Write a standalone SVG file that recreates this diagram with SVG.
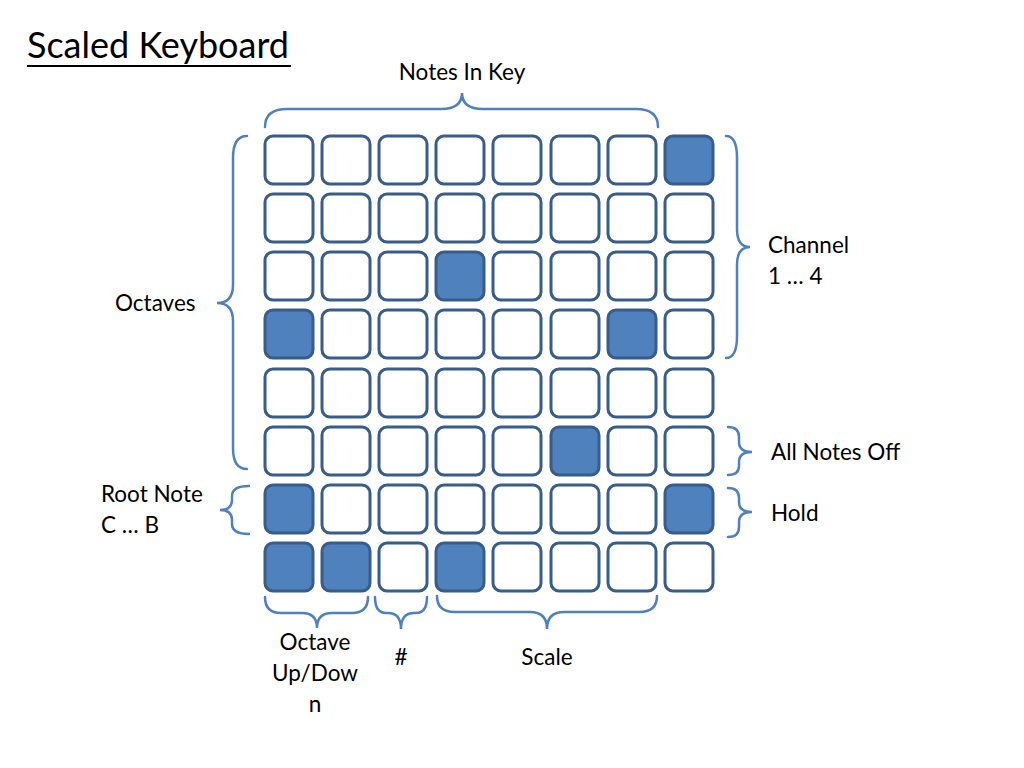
<svg xmlns="http://www.w3.org/2000/svg" width="1024" height="768" viewBox="0 0 1024 768">
<style>
.k{fill:#ffffff;stroke:#385d8a;stroke-width:3}
.on{fill:#4f81bd}
.b{fill:none;stroke:#4f81bd;stroke-width:2.5;stroke-linecap:round}
text{font-family:Lato,"Open Sans","Liberation Sans",sans-serif;font-size:22.5px;fill:#000}
.m{text-anchor:middle}
</style>
<defs>
<rect id="c" width="48" height="48" rx="8" ry="8"/>
</defs>
<rect width="1024" height="768" fill="#ffffff"/>
<g id="title">
<text x="27" y="58" style="font-size:36px">Scaled Keyboard</text>
<line x1="27" y1="66" x2="291" y2="66" stroke="#000" stroke-width="2"/>
</g>
<g id="grid">
<g id="row0" transform="translate(0,136)">
<use href="#c" class="k" x="265"/><use href="#c" class="k" x="322"/><use href="#c" class="k" x="379"/><use href="#c" class="k" x="436"/><use href="#c" class="k" x="493"/><use href="#c" class="k" x="551"/><use href="#c" class="k" x="608"/><use href="#c" class="k on" x="665"/>
</g>
<g id="row1" transform="translate(0,194)">
<use href="#c" class="k" x="265"/><use href="#c" class="k" x="322"/><use href="#c" class="k" x="379"/><use href="#c" class="k" x="436"/><use href="#c" class="k" x="493"/><use href="#c" class="k" x="551"/><use href="#c" class="k" x="608"/><use href="#c" class="k" x="665"/>
</g>
<g id="row2" transform="translate(0,252)">
<use href="#c" class="k" x="265"/><use href="#c" class="k" x="322"/><use href="#c" class="k" x="379"/><use href="#c" class="k on" x="436"/><use href="#c" class="k" x="493"/><use href="#c" class="k" x="551"/><use href="#c" class="k" x="608"/><use href="#c" class="k" x="665"/>
</g>
<g id="row3" transform="translate(0,310)">
<use href="#c" class="k on" x="265"/><use href="#c" class="k" x="322"/><use href="#c" class="k" x="379"/><use href="#c" class="k" x="436"/><use href="#c" class="k" x="493"/><use href="#c" class="k" x="551"/><use href="#c" class="k on" x="608"/><use href="#c" class="k" x="665"/>
</g>
<g id="row4" transform="translate(0,369)">
<use href="#c" class="k" x="265"/><use href="#c" class="k" x="322"/><use href="#c" class="k" x="379"/><use href="#c" class="k" x="436"/><use href="#c" class="k" x="493"/><use href="#c" class="k" x="551"/><use href="#c" class="k" x="608"/><use href="#c" class="k" x="665"/>
</g>
<g id="row5" transform="translate(0,427)">
<use href="#c" class="k" x="265"/><use href="#c" class="k" x="322"/><use href="#c" class="k" x="379"/><use href="#c" class="k" x="436"/><use href="#c" class="k" x="493"/><use href="#c" class="k on" x="551"/><use href="#c" class="k" x="608"/><use href="#c" class="k" x="665"/>
</g>
<g id="row6" transform="translate(0,485)">
<use href="#c" class="k on" x="265"/><use href="#c" class="k" x="322"/><use href="#c" class="k" x="379"/><use href="#c" class="k" x="436"/><use href="#c" class="k" x="493"/><use href="#c" class="k" x="551"/><use href="#c" class="k" x="608"/><use href="#c" class="k on" x="665"/>
</g>
<g id="row7" transform="translate(0,543)">
<use href="#c" class="k on" x="265"/><use href="#c" class="k on" x="322"/><use href="#c" class="k" x="379"/><use href="#c" class="k on" x="436"/><use href="#c" class="k" x="493"/><use href="#c" class="k" x="551"/><use href="#c" class="k" x="608"/><use href="#c" class="k" x="665"/>
</g>
</g>
<g id="braces">
<path id="b-notes" class="b" d="M265,127 Q265,109 287,109 L441,109 Q462,109 462,93 Q462,109 483,109 L636,109 Q658,109 658,127"/>
<path id="b-octaves" class="b" d="M247,136 Q233,136 233,158 L233,285 Q233,303 217,303 Q233,303 233,321 L233,448 Q233,469 247,469"/>
<path id="b-channel" class="b" d="M726,136 Q737,136 737,158 L737,229 Q737,247 750,247 Q737,247 737,265 L737,336 Q737,358 726,358"/>
<path id="b-alloff" class="b" d="M728,427 Q739,427 739,437 L739,442 Q739,452 752,452 Q739,452 739,462 L739,466 Q739,475 728,475"/>
<path id="b-hold" class="b" d="M728,488 Q739,488 739,498 L739,502 Q739,512 752,512 Q739,512 739,522 L739,527 Q739,537 728,537"/>
<path id="b-root" class="b" d="M249,486 Q232,486 232,496 L232,500 Q232,510 220,510 Q232,510 232,520 L232,524 Q232,534 249,534"/>
<path id="b-octave" class="b" d="M265,597 Q265,613 281,613 L302,613 Q317,613 317,628 Q317,613 332,613 L352,613 Q368,613 368,597"/>
<path id="b-sharp" class="b" d="M375,597 Q375,613 386,613 L388,613 Q401,613 401,629 Q401,613 414,613 L416,613 Q427,613 427,597"/>
<path id="b-scale" class="b" d="M437,596 Q437,612 455,612 L530,612 Q547,612 547,629 Q547,612 564,612 L639,612 Q657,612 657,596"/>
</g>
<g id="labels">
<text class="m" x="462" y="80">Notes In Key</text>
<text x="115" y="311">Octaves</text>
<text x="768" y="253">Channel</text>
<text x="768" y="284">1 … 4</text>
<text x="771" y="460">All Notes Off</text>
<text x="771" y="521">Hold</text>
<text x="101" y="502">Root Note</text>
<text x="101" y="533">C … B</text>
<text class="m" x="315" y="650">Octave</text>
<text class="m" x="315" y="681">Up/Dow</text>
<text class="m" x="315" y="712">n</text>
<text class="m" x="401" y="665">#</text>
<text class="m" x="547" y="665">Scale</text>
</g>
</svg>
